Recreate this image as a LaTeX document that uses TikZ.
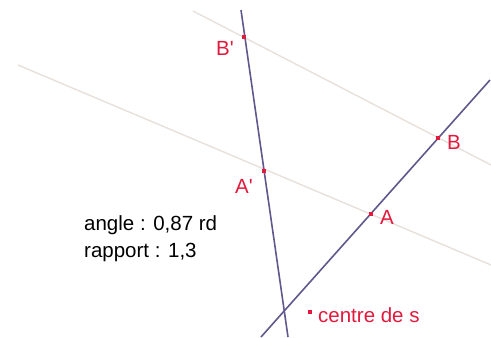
\documentclass[tikz,border=0pt]{standalone}
\usepackage{fontspec}
\setmainfont{Liberation Sans}
\definecolor{lineviolet}{RGB}{95,88,140}
\definecolor{lightline}{RGB}{232,224,218}
\definecolor{ptred}{RGB}{225,25,60}
\tikzset{
  violetline/.style={draw=lineviolet,line width=1.6pt},
  paleline/.style={draw=lightline,line width=1.4pt},
  ptmark/.style={fill=ptred,inner sep=0pt,minimum size=4pt,draw=none},
  ptlabel/.style={text=ptred,inner sep=0pt,font=\fontsize{20.5pt}{22pt}\selectfont},
  infotext/.style={text=black,inner sep=0pt,anchor=base west,font=\fontsize{20.5pt}{22pt}\selectfont}
}
\begin{document}
\begin{tikzpicture}[x=1pt,y=-1pt]
\useasboundingbox (0,0) rectangle (491,338);
% line end points
\coordinate (aL) at (18,65);
\coordinate (aR) at (491,265);
\coordinate (bL) at (193,11);
\coordinate (bR) at (491,165);
\coordinate (v1T) at (241,10);
\coordinate (v1B) at (288,337);
\coordinate (v2T) at (490,80);
\coordinate (v2B) at (261,337);
% pale lines
\draw[paleline] (aL) -- (aR);
\draw[paleline] (bL) -- (bR);
% violet lines
\draw[violetline] (v1T) -- (v1B);
\draw[violetline] (v2T) -- (v2B);
% points
\node[ptmark] (Bp) at (244,37) {};
\node[ptmark] (Ap) at (264,171) {};
\node[ptmark] (A) at (371,214) {};
\node[ptmark] (B) at (438,138) {};
\node[ptmark] (S) at (310,312) {};
% labels
\node[ptlabel] (lBp) at (225,48) {B\textquotesingle};
\node[ptlabel] (lAp) at (244,186) {A\textquotesingle};
\node[ptlabel] (lA) at (387,217) {A};
\node[ptlabel] (lB) at (454,142) {B};
\node[ptlabel,anchor=base west] (lS) at (318,322) {centre de s};
% info text
\node[infotext] (angle) at (84,230) {angle : 0,87 rd};
\node[infotext] (rapport) at (84,257) {rapport : 1,3};
\end{tikzpicture}
\end{document}
